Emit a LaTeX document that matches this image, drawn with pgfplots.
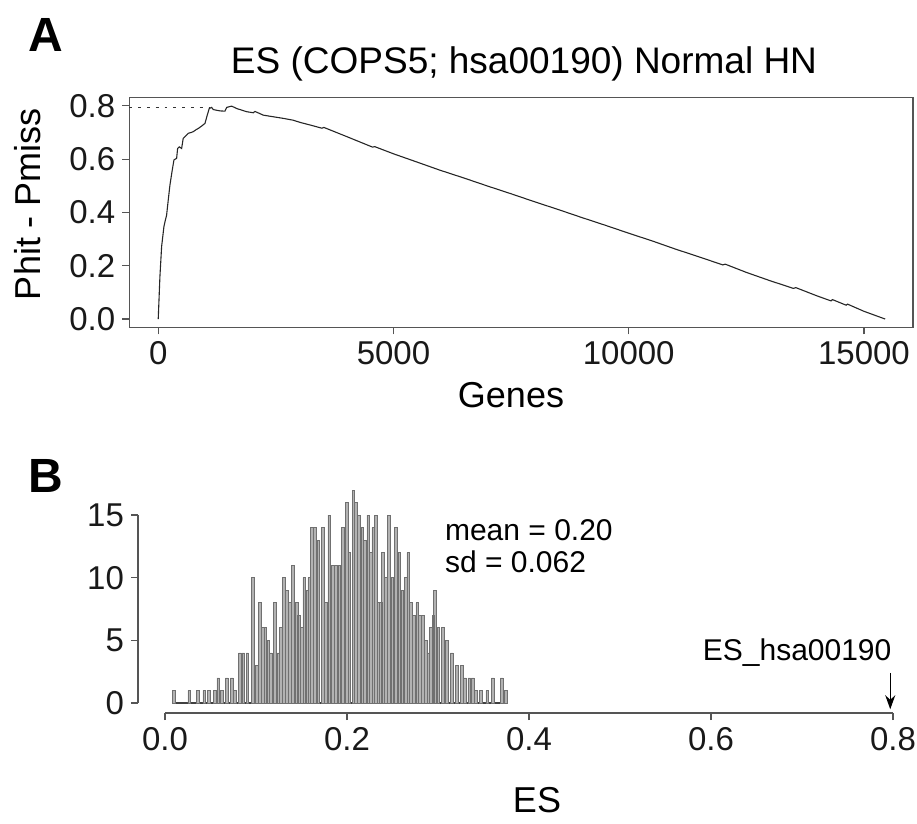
\documentclass[border=0pt]{standalone}
\usepackage{fontspec}
\setmainfont{Liberation Sans}
\usepackage{pgfplots}
\pgfplotsset{compat=1.18}
\usetikzlibrary{arrows.meta}
\definecolor{axcol}{HTML}{555555}
\definecolor{barfill}{HTML}{B2B2B2}
\definecolor{baredge}{HTML}{707070}
\begin{document}
\begin{tikzpicture}
\path[use as bounding box] (0,0) rectangle (458.5pt,-412pt);
% ---------------- Panel A ----------------
\begin{axis}[
  at={(64.65pt,-163.65pt)}, anchor=south west,
  scale only axis, width=391.85pt, height=115pt,
  xmin=-615, xmax=16042, ymin=-0.031, ymax=0.832,
  axis line style={axcol, line width=0.7pt},
  tick pos=left, tick align=outside,
  major tick length=3.5pt,
  tick style={axcol, line width=0.6pt},
  xtick={0,5000,10000,15000},
  ytick={0,0.2,0.4,0.6,0.8},
  scaled x ticks=false,
  /pgf/number format/assume math mode=true,
  xticklabel style={/pgf/number format/1000 sep={}},
  yticklabel style={/pgf/number format/.cd, fixed, fixed zerofill, precision=1},
  tick label style={font=\fontsize{16.5}{18}\selectfont, text=black!90},
  clip=false,
]
\addplot[black!80, dash pattern=on 1.4pt off 3pt, line width=0.6pt] coordinates {(-615,0.795) (1090,0.795)};
\addplot[black!85, line width=0.55pt] coordinates {
(0,0) (36,0.16) (72,0.272) (121,0.347) (150,0.37) (178,0.39) (213,0.447)
(249,0.503) (298,0.559) (334,0.597) (391,0.603) (412,0.64) (446,0.646)
(497,0.64) (531,0.678) (567,0.684) (638,0.697) (700,0.70) (744,0.703)
(800,0.71) (850,0.715) (922,0.724) (993,0.734) (1042,0.765) (1084,0.79)
(1135,0.794) (1169,0.786) (1311,0.781) (1418,0.78) (1454,0.794) (1560,0.799)
(1666,0.79) (1879,0.778) (2020,0.774) (2056,0.779) (2233,0.765) (2444,0.759)
(2657,0.753) (2870,0.746) (3012,0.738) (3250,0.727) (3480,0.716) (3520,0.719)
(4000,0.685) (4556,0.645) (4600,0.647) (5000,0.62) (5500,0.589) (5980,0.559)
(6500,0.529) (7000,0.499) (7500,0.47) (8000,0.44) (8500,0.411) (9000,0.381)
(9500,0.352) (10000,0.322) (10500,0.293) (11000,0.262) (11500,0.233)
(12000,0.203) (12050,0.206) (12500,0.175) (13000,0.144) (13500,0.115)
(13550,0.118) (14000,0.087) (14300,0.068) (14330,0.073) (14620,0.052)
(14650,0.056) (15000,0.029) (15450,0.0)
};
\end{axis}
\node[anchor=base, font=\fontsize{18.5}{20}\selectfont] at (262pt,-37pt) {ES (COPS5; hsa00190) Normal HN};
\node[rotate=90, font=\fontsize{18}{20}\selectfont] at (14pt,-102pt) {Phit - Pmiss};
\node[font=\fontsize{18}{20}\selectfont] at (255.5pt,-197.5pt) {Genes};
\node[anchor=base west, font=\fontsize{24}{26}\selectfont\bfseries] at (10.5pt,-26pt) {A};
\node[anchor=base west, font=\fontsize{24}{26}\selectfont\bfseries] at (10.5pt,-246pt) {B};
% ---------------- Panel B ----------------
\begin{axis}[
  at={(69pt,-356.5pt)}, anchor=south west,
  scale only axis, width=389.5pt, height=115.75pt,
  xmin=-0.0297, xmax=0.8264, ymin=-0.8, ymax=17.68,
  axis x line*=bottom, axis y line*=left,
  axis line style={draw=none},
  tick align=outside,
  major tick length=3.5pt,
  tick style={axcol, line width=0.6pt},
  xtick={0,0.2,0.4,0.6,0.8},
  ytick={0,5,10,15},
  /pgf/number format/assume math mode=true,
  xticklabel style={/pgf/number format/.cd, fixed, fixed zerofill, precision=1},
  tick label style={font=\fontsize{16.5}{18}\selectfont, text=black!90},
  clip=false,
]
\draw[axcol, line width=0.7pt] (axis cs:0,-0.8) -- (axis cs:0.8,-0.8);
\draw[axcol, line width=0.7pt] (axis cs:-0.0297,0) -- (axis cs:-0.0297,15);
\addplot[black!75, line width=0.6pt] coordinates {(0.0085,0) (0.3762,0)};
\addplot[ybar, bar width=0.003, fill=barfill, draw=baredge, line width=0.35pt] coordinates {
(0.0099,1) (0.0267,1) (0.0359,1) (0.0432,1) (0.0484,1) (0.0549,1) (0.0586,2)
(0.0623,1) (0.0678,2) (0.0733,2) (0.0769,1) (0.0824,4) (0.0861,4) (0.0905,4)
(0.0963,10) (0.1007,3) (0.1044,8) (0.1073,6) (0.1103,6) (0.1136,5) (0.1161,4)
(0.1209,8) (0.1245,4) (0.1271,6) (0.1308,10) (0.1337,9) (0.1374,8) (0.1403,11)
(0.1447,8) (0.1473,7) (0.1502,6) (0.1531,10) (0.1564,9) (0.1586,10) (0.1612,14)
(0.1648,14) (0.1685,13) (0.1733,14) (0.1769,8) (0.1806,15) (0.1843,11)
(0.1879,11) (0.1916,11) (0.1953,14) (0.1996,16) (0.2026,12) (0.2070,17)
(0.2099,16) (0.2132,15) (0.2168,14) (0.2198,13) (0.2234,15) (0.2264,12)
(0.2289,14) (0.2319,15) (0.2344,8) (0.2370,8) (0.2392,12) (0.2425,10)
(0.2462,15) (0.2498,10) (0.2535,14) (0.2575,12) (0.2608,9) (0.2645,10)
(0.2674,12) (0.2703,8) (0.2736,7) (0.2773,8) (0.2802,7) (0.2832,7) (0.2865,5)
(0.2894,4) (0.2923,6) (0.2949,7) (0.2967,9) (0.3004,6) (0.3051,6) (0.3095,5)
(0.3150,4) (0.3205,3) (0.3260,3) (0.3297,2) (0.3344,2) (0.3381,2) (0.3418,1)
(0.3469,1) (0.3542,1) (0.3601,2) (0.3700,2) (0.3747,1)
};
\node[anchor=base west, font=\fontsize{15}{17}\selectfont] at (axis cs:0.300,13.0) {mean = 0.20};
\node[anchor=base west, font=\fontsize{15}{17}\selectfont] at (axis cs:0.300,10.4) {sd = 0.062};
\node[anchor=base east, font=\fontsize{15}{17}\selectfont] at (axis cs:0.806,3.4) {ES\_hsa00190};
\draw[-{Stealth[length=7pt,width=5pt]}, black, line width=0.7pt] (axis cs:0.797,2.4) -- (axis cs:0.797,-0.5);
\end{axis}
\node[font=\fontsize{18}{20}\selectfont] at (268.5pt,-400pt) {ES};
\end{tikzpicture}
\end{document}
